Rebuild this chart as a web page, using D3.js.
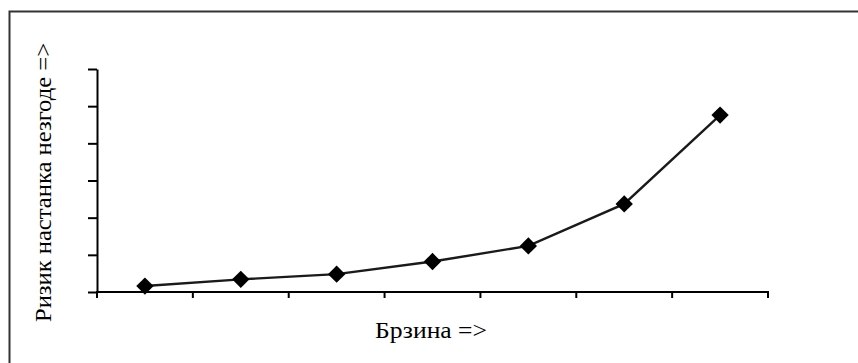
<!DOCTYPE html>
<html><head><meta charset="utf-8">
<script src="https://cdn.jsdelivr.net/npm/d3@7"></script>
<style>html,body{margin:0;padding:0;background:#fff;overflow:hidden}</style>
</head><body>
<script>
const categories = ["1","2","3","4","5","6","7"];
const riskValues = [0.16, 0.34, 0.48, 0.82, 1.24, 2.37, 4.76];
const yTicks = [0,1,2,3,4,5,6];
const xTitle = "Брзина =>";
const yTitle = "Ризик настанка незгоде =>";

const W = 858, H = 363;
const svg = d3.select("body").append("svg").attr("width", W).attr("height", H);

// outer frame (extends past right/bottom edge)
svg.append("rect").attr("x", 9.5).attr("y", 11.5).attr("width", 880).attr("height", 400)
  .attr("fill", "none").attr("stroke", "#333").attr("stroke-width", 2);

const x = d3.scaleBand().domain(categories).range([97, 768]);
const y = d3.scaleLinear().domain([0, 6]).range([292, 69]);

const gx = svg.append("g").attr("transform", "translate(0,292)")
  .call(d3.axisBottom(x).tickSizeInner(0).tickSizeOuter(0).tickFormat(""));
gx.selectAll(".bt").data(categories).enter().append("line")
  .attr("x1", d => x(d) + x.bandwidth()).attr("x2", d => x(d) + x.bandwidth())
  .attr("y1", 0).attr("y2", 6).attr("stroke", "#000").attr("stroke-width", 2);
gx.append("line").attr("x1", 97).attr("x2", 97).attr("y1", 0).attr("y2", 6).attr("stroke", "#000").attr("stroke-width", 2);

const gy = svg.append("g").attr("transform", "translate(97,0)")
  .call(d3.axisLeft(y).tickValues(yTicks).tickSize(9).tickSizeOuter(0).tickFormat(""));
svg.selectAll(".domain").attr("stroke", "#000").attr("stroke-width", 2);
svg.selectAll(".tick line").attr("stroke", "#000").attr("stroke-width", 2);
gx.select(".domain").attr("d", "M96,0H769");

const line = d3.line().x((d, i) => x(categories[i]) + x.bandwidth() / 2).y(d => y(d));
svg.append("path").datum(riskValues).attr("d", line)
  .attr("fill", "none").attr("stroke", "#1a1a1a").attr("stroke-width", 2.4);

svg.selectAll(".pt").data(riskValues).enter().append("path")
  .attr("d", d3.symbol().type(d3.symbolSquare).size(150))
  .attr("transform", (d, i) => `translate(${x(categories[i]) + x.bandwidth() / 2},${y(d)}) rotate(45)`)
  .attr("fill", "#000");

svg.append("text").attr("x", 375).attr("y", 338)
  .attr("font-family", "Liberation Serif, Times New Roman, serif").attr("font-size", 23)
  .attr("textLength", 112).attr("lengthAdjust", "spacingAndGlyphs")
  .attr("fill", "#000").text(xTitle);

svg.append("text").attr("transform", "translate(51,322) rotate(-90)")
  .attr("font-family", "Liberation Serif, Times New Roman, serif").attr("font-size", 23)
  .attr("textLength", 279).attr("lengthAdjust", "spacingAndGlyphs")
  .attr("fill", "#000").text(yTitle);
</script>
</body></html>
